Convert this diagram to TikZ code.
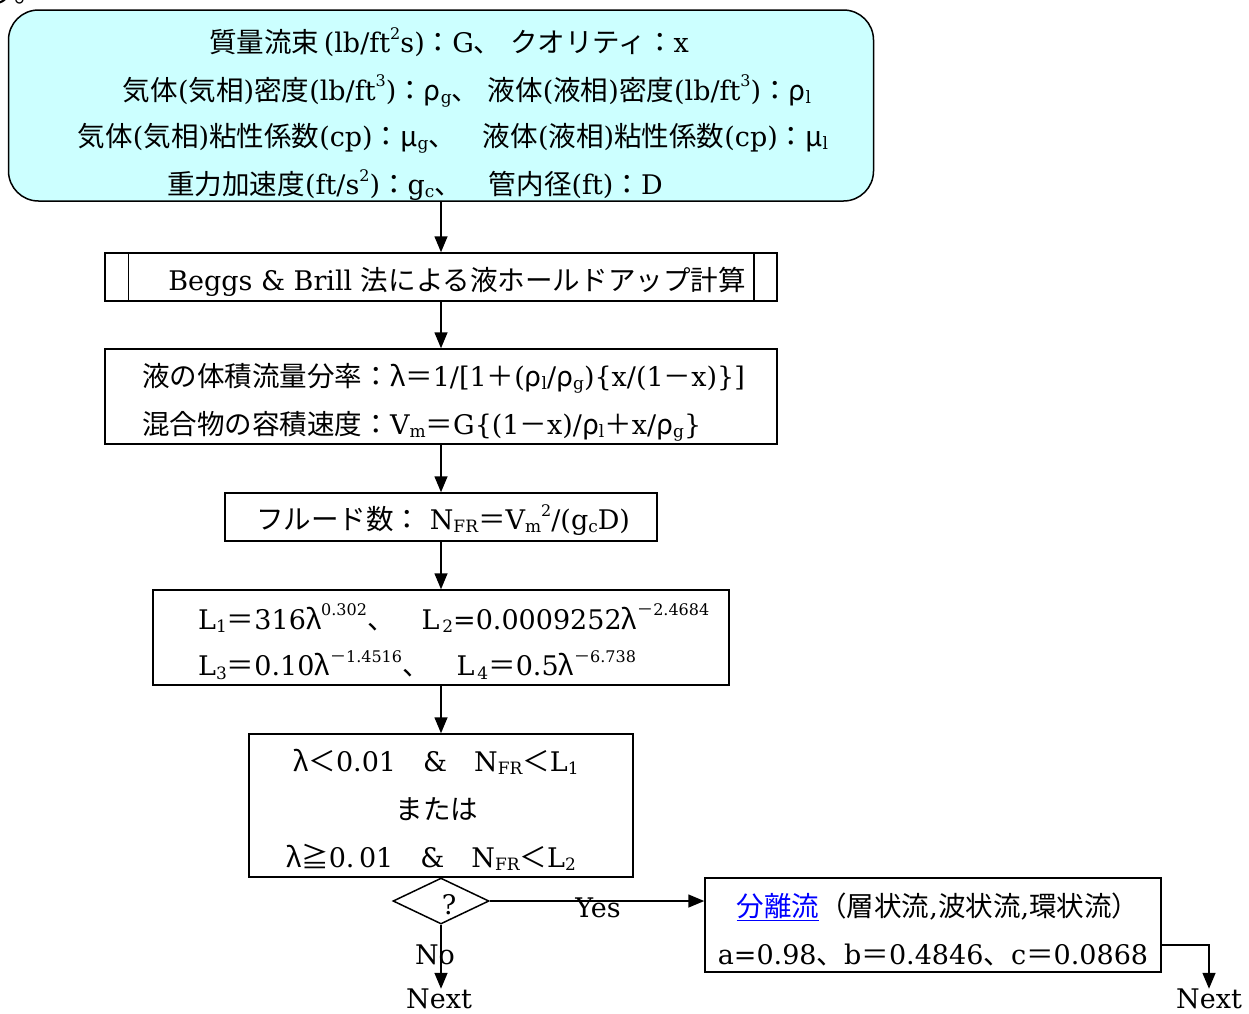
\documentclass[tikz,border=0pt]{standalone}
\usepackage{fontspec}
\usetikzlibrary{arrows.meta,shapes.geometric,calc}
\setmainfont{DejaVu Serif}
\newfontfamily\jp{Noto Sans CJK JP}[Scale=1.02]
\newcommand\J[1]{{\jp #1}}
\newcommand\lo[1]{\raisebox{-0.12em}{\fontsize{17}{17}\selectfont #1}}
\newcommand\hi[1]{\raisebox{0.5em}{\fontsize{16}{16}\selectfont #1}}
\definecolor{boxcyan}{HTML}{CCFFFF}
\tikzset{
  main/.style={font=\fontsize{27}{31}\selectfont},
  box/.style={draw, line width=1.5pt, inner sep=0pt},
  txt/.style={inner sep=0pt},
  arr/.style={line width=1.5pt, -{Triangle[length=16pt,width=13pt]}},
  ln/.style={line width=1.5pt}
}
\begin{document}
\begin{tikzpicture}[x=1pt,y=-1pt,main]
\useasboundingbox (0,0) rectangle (1249,1013);
\node[txt,anchor=base west] (top) at (-10,2) {\J{す。}};
% top input box
\node[box, fill=boxcyan, rounded corners=30pt, minimum width=865pt, minimum height=191pt] (b1) at (441,105.5) {};
\node[txt] (t1) at (449,42) {\J{質量流束}\,(lb/ft\hi{2}s)\J{：}G\J{、}\ \J{クオリティ：}x};
\node[txt] (t2) at (467,91) {\J{気体}(\J{気相})\J{密度}(lb/ft\hi{3})\J{：}\J{ρ}\lo{g}\J{、}\ \J{液体}(\J{液相})\J{密度}(lb/ft\hi{3})\J{：}\J{ρ}\lo{l}};
\node[txt] (t3) at (453,138) {\J{気体}(\J{気相})\J{粘性係数}(cp)\J{：}\J{μ}\lo{g}\J{、}\quad\J{液体}(\J{液相})\J{粘性係数}(cp)\J{：}\J{μ}\lo{l}};
\node[txt] (t4) at (415,185) {\J{重力加速度}(ft/s\hi{2})\J{：}g\lo{c}\J{、}\quad\J{管内径}(ft)\J{：}D};
% predefined process
\node[box, minimum width=672pt, minimum height=48pt] (pp) at (441,277) {};
\draw[ln] ([xshift=24pt]pp.north west) -- ([xshift=24pt]pp.south west);
\draw[ln] ([xshift=-24pt]pp.north east) -- ([xshift=-24pt]pp.south east);
\node[txt] (ppt) at (457,282) {Beggs \& Brill \J{法による液ホールドアップ計算}};
% box 2
\node[box, minimum width=672pt, minimum height=95pt] (b2) at (441,396.5) {};
\node[txt,anchor=west] (b2a) at (142,378) {\J{液の体積流量分率：λ＝}1/[1\J{＋}(\J{ρ}\lo{l}/\J{ρ}\lo{g})\{x/(1\J{－}x)\}]};
\node[txt,anchor=west] (b2b) at (142,426) {\J{混合物の容積速度：}V\lo{m}\J{＝}G\{(1\J{－}x)/\J{ρ}\lo{l}\J{＋}x/\J{ρ}\lo{g}\}};
% box 3
\node[box, minimum width=432pt, minimum height=48pt] (b3) at (441,517) {};
\node[txt] (b3t) at (443,520) {\J{フルード数：}\ N\lo{FR}\J{＝}V\lo{m}\hi{2}/(g\lo{c}D)};
% box 4
\node[box, minimum width=576pt, minimum height=95pt] (b4) at (441,637.5) {};
\node[txt,anchor=west] (b4a) at (198,618) {L\lo{1}\J{＝}316\J{λ}\hi{0.302}\J{、}\quad L\lo{\,2}=0.0009252\J{λ}\hi{\J{－}2.4684}};
\node[txt,anchor=west] (b4b) at (198,665) {L\lo{3}\J{＝}0.10\J{λ}\hi{\J{－}1.4516}\J{、}\quad L\lo{\,4}\J{＝}0.5\J{λ}\hi{\J{－}6.738}};
% box 5
\node[box, minimum width=384pt, minimum height=143pt] (b5) at (441,805.5) {};
\node[txt] (b5a) at (436,762) {\J{λ＜}0.01\quad\&\quad N\lo{FR}\J{＜}L\lo{1}};
\node[txt] (b5b) at (437,809) {\J{または}};
\node[txt] (b5c) at (431,857) {\J{λ≧}0.\,01\quad\&\quad N\lo{FR}\J{＜}L\lo{2}};
% decision
\node[draw, ln, shape=diamond, minimum width=96pt, minimum height=46pt, inner sep=0pt] (dia) at (441,901) {};
\node[txt] (q) at (449,905) {?};
% right box
\node[box, minimum width=456pt, minimum height=94pt] (rb) at (933,925) {};
\node[txt] (rba) at (938,907) {\textcolor{blue}{\underline{\J{分離流}}}\J{（層状流},\J{波状流},\J{環状流）}};
\node[txt] (rbb) at (933,955) {a=0.98\J{、}b\J{＝}0.4846\J{、}c\J{＝}0.0868};
% next labels
\node[txt] (n1) at (439,999) {Next};
\node[txt] (n2) at (1209,999) {Next};
% connectors
\draw[arr] (b1.south) -- (pp.north);
\draw[arr] (pp.south) -- (b2.north);
\draw[arr] (b2.south) -- (b3.north);
\draw[arr] (b3.south) -- (b4.north);
\draw[arr] (b4.south) -- (b5.north);
\draw[arr] (dia.east) -- (dia.east -| rb.west);
\draw[arr] ([yshift=-20pt]rb.east) -| (n2.north);
\draw[arr] (dia.south) -- (n1.north -| dia.south);
\node[txt] (yes) at (598,908) {Yes};
\node[txt] (no) at (435,955) {No};
\end{tikzpicture}
\end{document}
